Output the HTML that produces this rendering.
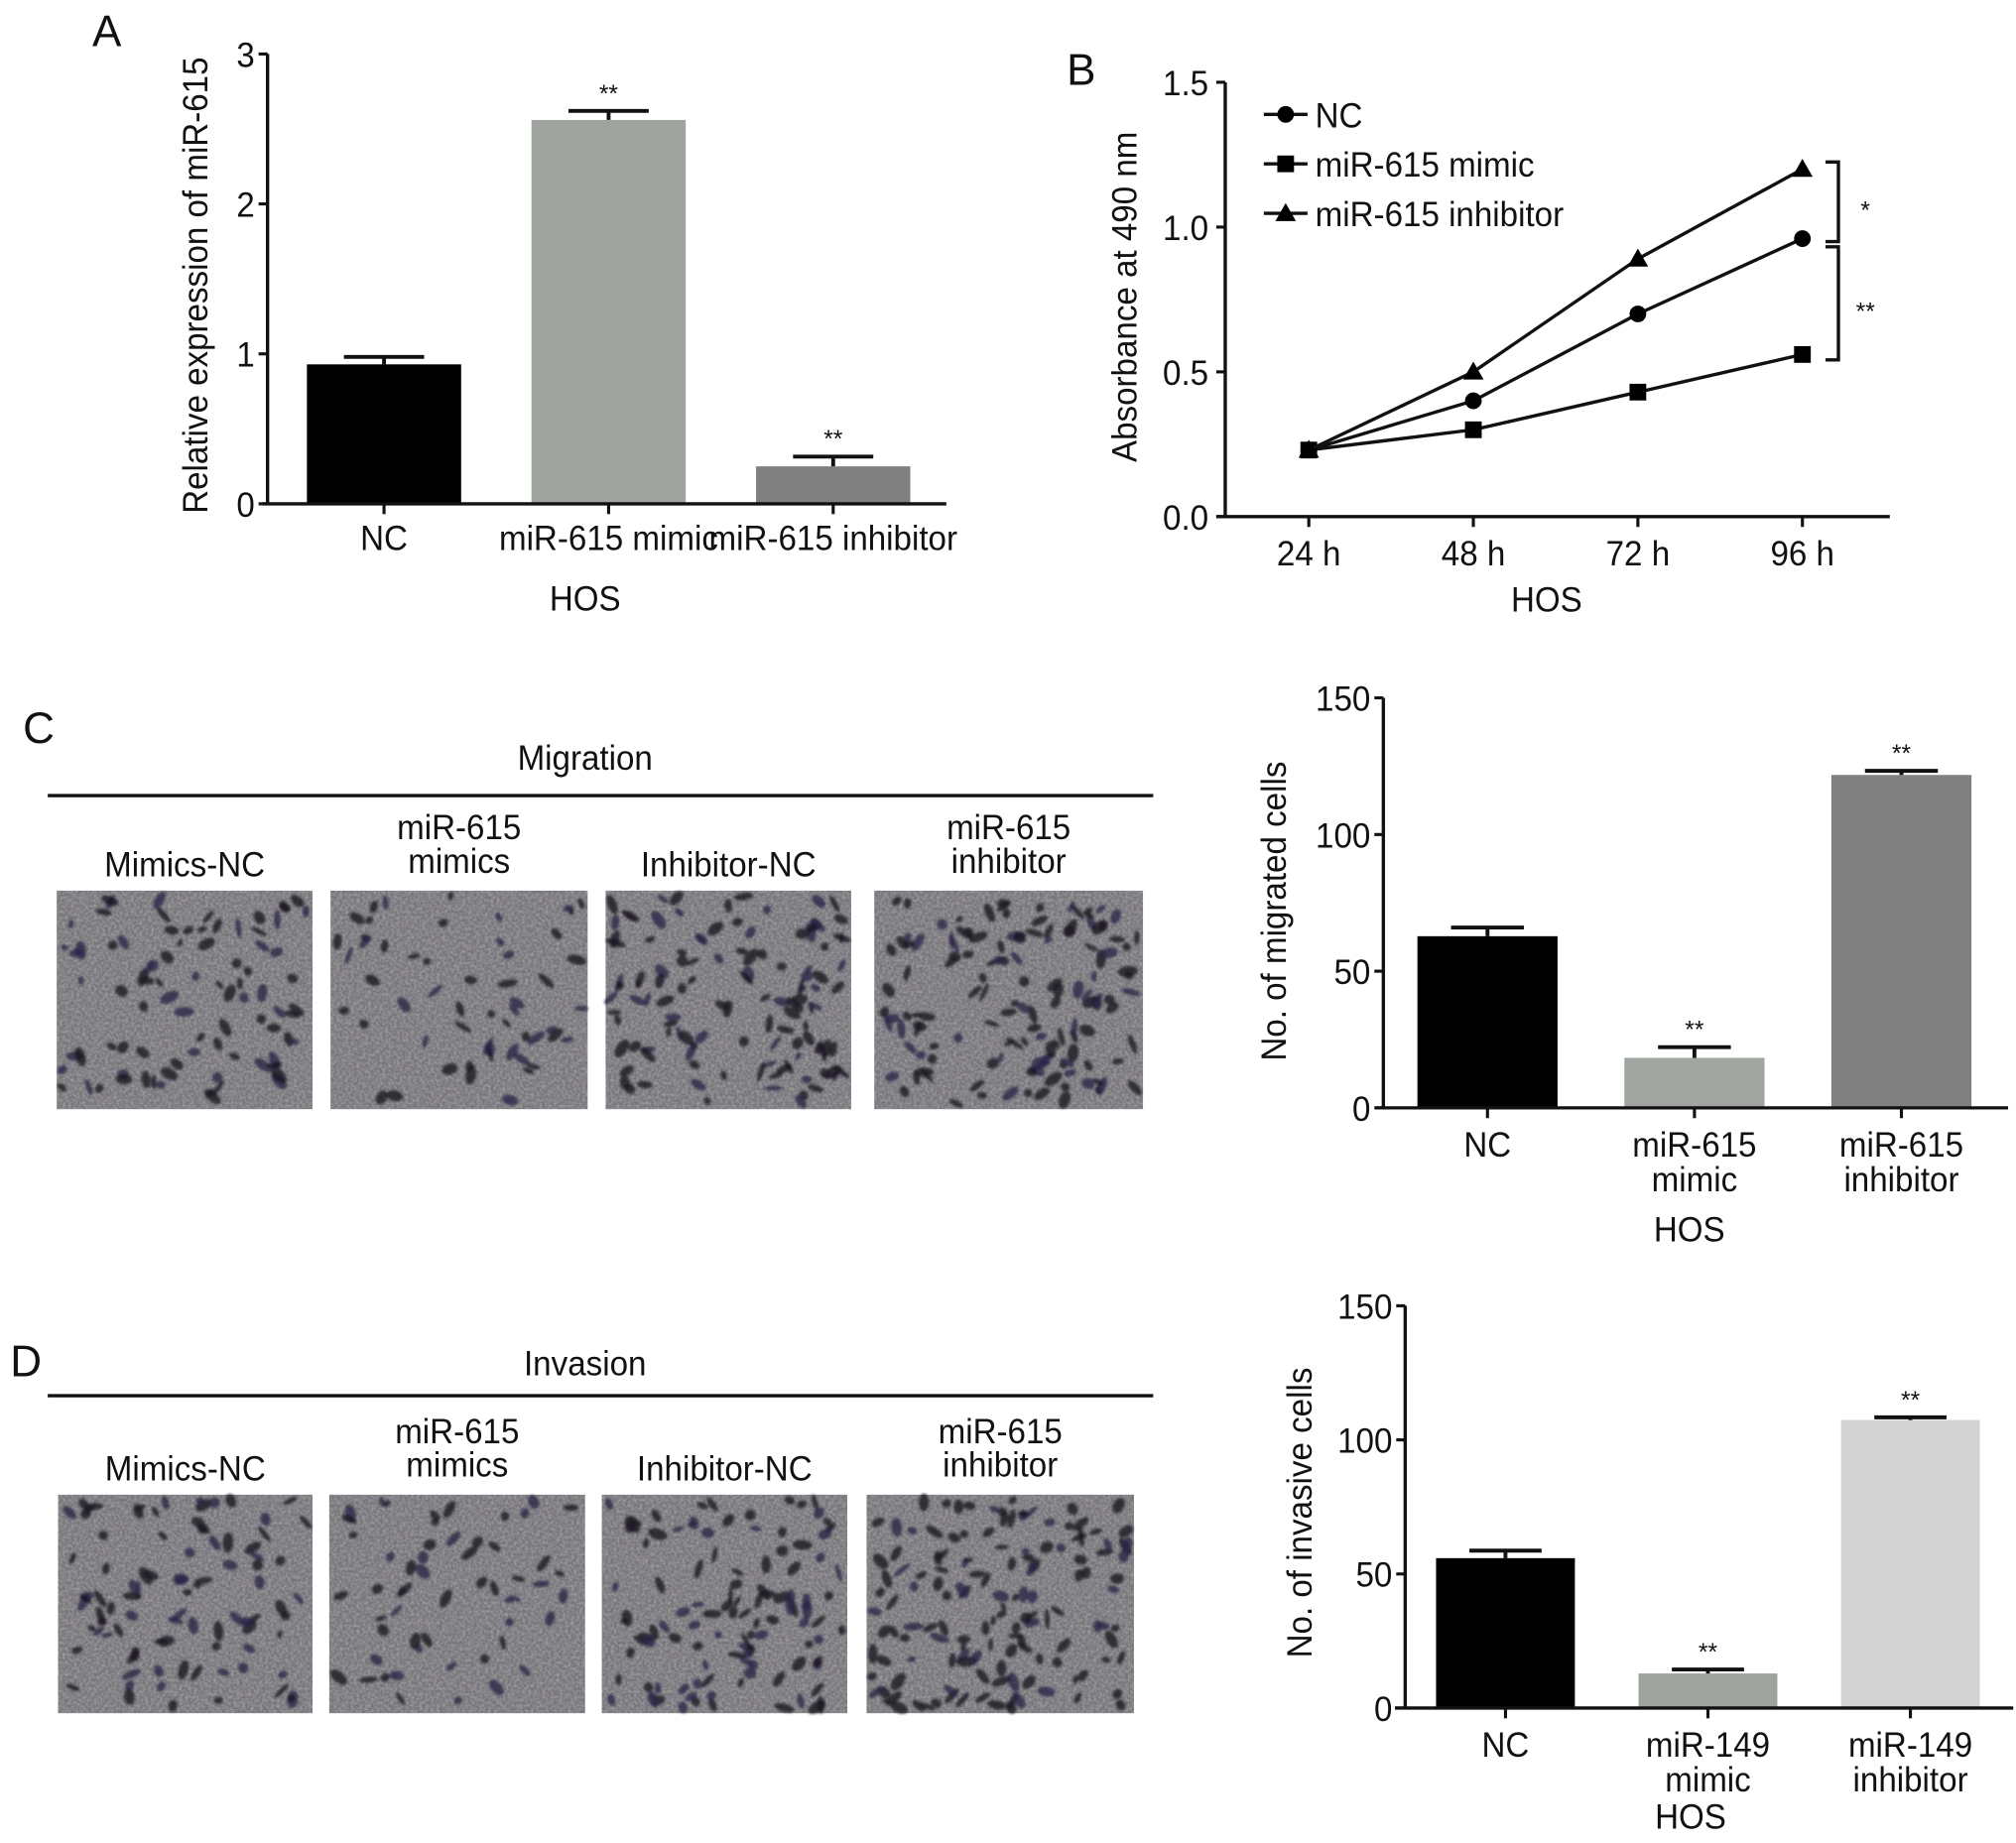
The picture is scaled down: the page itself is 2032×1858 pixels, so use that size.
<!DOCTYPE html>
<html><head><meta charset="utf-8">
<style>
html,body{margin:0;padding:0;background:#fff;}
svg{display:block;}
text{font-family:"Liberation Sans",sans-serif;fill:#111;}
</style></head>
<body>
<svg id="fig" xmlns="http://www.w3.org/2000/svg" width="2032" height="1858" viewBox="0 0 1568 1434">
<defs>
<filter id="grain" x="0" y="0" width="100%" height="100%">
<feTurbulence type="fractalNoise" baseFrequency="0.45" numOctaves="2" seed="3" result="n"/>
<feColorMatrix in="n" type="matrix" values="0 0 0 0 0.62  0 0 0 0 0.6  0 0 0 0 0.62  0 0 0 1.4 -0.45" result="g"/>
<feComposite in="g" in2="SourceGraphic" operator="in"/>
</filter>
<filter id="soft"><feGaussianBlur stdDeviation="1.1"/></filter>
</defs>
<g id="root"></g>
</svg>
<script>
// ---- Panel A data ----
const aCats = ["NC", "miR-615 mimic", "miR-615 inhibitor"];
const aVals = [0.93, 2.56, 0.25];
const aErr = [0.05, 0.06, 0.065];
const aTicks = [0, 1, 2, 3];
// ---- Panel B data ----
const bCats = ["24 h", "48 h", "72 h", "96 h"];
const bNC = [0.23, 0.40, 0.70, 0.96];
const bMimic = [0.23, 0.30, 0.43, 0.56];
const bInh = [0.23, 0.50, 0.89, 1.20];
const bTicks = [0.0, 0.5, 1.0, 1.5];
// ---- Panel C data ----
const cCats = [["NC"], ["miR-615", "mimic"], ["miR-615", "inhibitor"]];
const cVals = [62.8, 18.3, 121.8];
const cErr = [3.2, 3.9, 1.5];
const cTicks = [0, 50, 100, 150];
// ---- Panel D data ----
const dCats = [["NC"], ["miR-149", "mimic"], ["miR-149", "inhibitor"]];
const dVals = [55.9, 12.9, 107.4];
const dErr = [2.8, 1.5, 1.0];
const dTicks = [0, 50, 100, 150];

const NS = "http://www.w3.org/2000/svg";
const root = document.getElementById("root");
const FS = 27.5;
function mk(tag, attrs, parent) {
  const e = document.createElementNS(NS, tag);
  for (const k in attrs) e.setAttribute(k, attrs[k]);
  (parent || root).appendChild(e);
  return e;
}
function txt(s, x, y, size, anchor, parent, squeeze) {
  const t = mk("text", {x: x, y: y, "font-size": size, "text-anchor": anchor || "middle"}, parent);
  t.textContent = s;
  if (squeeze !== false) {
    const w = t.getComputedTextLength();
    if (w > 0) {
      t.setAttribute("textLength", (w * 0.93).toFixed(1));
      t.setAttribute("lengthAdjust", "spacingAndGlyphs");
    }
  }
  return t;
}

function barChart(cfg) {
  const g = mk("g", {});
  
  
  const y = v => cfg.y0 - (v - cfg.vmin) / (cfg.vmax - cfg.vmin) * (cfg.y0 - cfg.y1);
  const x = i => cfg.c0 + i * cfg.step;
  cfg.vals.forEach((v, i) => {
    const r = mk("rect", {x: x(i) - cfg.bw / 2, y: y(v), width: cfg.bw, height: cfg.y0 - y(v), fill: cfg.colors[i]}, g);
    
    
    const top = y(v + cfg.err[i]);
    const eb = mk("path", {d: `M${x(i)},${y(v)}V${top}M${x(i) - cfg.bw * 0.26},${top}H${x(i) + cfg.bw * 0.26}`, stroke: "#111", "stroke-width": 3, fill: "none"}, g);
    
    
    if (cfg.sig[i]) {
      const s = txt(cfg.sig[i], x(i), top - 7, 19, "middle", g, false);
      
      
    }
  });
  const ax = mk("path", {d: `M${cfg.ax},${cfg.y1}V${cfg.y0}M${cfg.xa0},${cfg.y0}H${cfg.xa1}`, stroke: "#111", "stroke-width": 2.6, fill: "none"}, g);
  
  
  cfg.ticks.forEach(t => {
    mk("path", {d: `M${cfg.ax - 7},${y(t)}H${cfg.ax}`, stroke: "#111", "stroke-width": 2.4}, g);
    const l = txt(String(t), cfg.ax - 10, y(t) + 10, FS, "end", g);
    
    
  });
  cfg.cats.forEach((c, i) => {
    mk("path", {d: `M${x(i)},${cfg.y0}V${cfg.y0 + 8}`, stroke: "#111", "stroke-width": 2.4}, g);
    const lines = Array.isArray(c) ? c : [c];
    lines.forEach((s, j) => {
      const l = txt(s, x(i), cfg.labY + j * cfg.lineH, FS, "middle", g);
      
      
    });
  });
  const yt = txt(cfg.ytitle, 0, 0, FS, "middle", g);
  yt.setAttribute("transform", `translate(${cfg.ytx},${cfg.yty}) rotate(-90)`);
  
  
  const xt = txt("HOS", cfg.hosX, cfg.hosY, FS, "middle", g);
  
  
}

function plabel(s, x, y) {
  const t = txt(s, x, y, 34, "middle", root, false);
  
  
}
plabel("A", 83, 36); plabel("B", 841, 66); plabel("C", 30, 578); plabel("D", 20, 1071);

barChart({name: "panel-a-chart", vals: aVals, err: aErr, cats: aCats, ticks: aTicks,
  vmin: 0, vmax: 3, y0: 392, y1: 42, ax: 208, xa0: 204, xa1: 736, c0: 298.6, step: 174.7, bw: 120,
  colors: ["#000", "#9fa59e", "#808080"], sig: ["", "**", "**"], labY: 428, lineH: 27,
  ytitle: "Relative expression of miR-615", ytx: 161, yty: 222, hosX: 455, hosY: 475});

barChart({name: "panel-c-chart", vals: cVals, err: cErr, cats: cCats, ticks: cTicks,
  vmin: 0, vmax: 150, y0: 862, y1: 543, ax: 1076, xa0: 1070, xa1: 1562, c0: 1157, step: 161, bw: 109,
  colors: ["#000", "#a0a59f", "#808080"], sig: ["", "**", "**"], labY: 900, lineH: 27,
  ytitle: "No. of migrated cells", ytx: 1000, yty: 709, hosX: 1314, hosY: 966});

barChart({name: "panel-d-chart", vals: dVals, err: dErr, cats: dCats, ticks: dTicks,
  vmin: 0, vmax: 150, y0: 1329, y1: 1016, ax: 1093, xa0: 1085, xa1: 1566, c0: 1171, step: 157.5, bw: 108,
  colors: ["#000", "#9fa59e", "#d3d3d3"], sig: ["", "**", "**"], labY: 1367, lineH: 27,
  ytitle: "No. of invasive cells", ytx: 1020, yty: 1177, hosX: 1315, hosY: 1423});

(function () {
  const g = mk("g", {});
  
  
  const y = v => 402 - v / 1.5 * 338;
  const x = i => 1018 + i * 128;
  const ax = mk("path", {d: `M953,64V402M946,402H1470`, stroke: "#111", "stroke-width": 2.6, fill: "none"}, g);
  
  
  bTicks.forEach(t => {
    mk("path", {d: `M946,${y(t)}H953`, stroke: "#111", "stroke-width": 2.4}, g);
    const l = txt(t.toFixed(1), 940, y(t) + 10, FS, "end", g);
    
    
  });
  bCats.forEach((c, i) => {
    mk("path", {d: `M${x(i)},402V410`, stroke: "#111", "stroke-width": 2.4}, g);
    const l = txt(c, x(i), 440, FS, "middle", g);
    
    
  });
  function marker(kind, cx, cy, parent) {
    if (kind === "circle") return mk("circle", {cx: cx, cy: cy, r: 6.5, fill: "#000"}, parent);
    if (kind === "square") return mk("rect", {x: cx - 6.5, y: cy - 6.5, width: 13, height: 13, fill: "#000"}, parent);
    return mk("path", {d: `M${cx},${cy - 8}L${cx + 8},${cy + 6}L${cx - 8},${cy + 6}Z`, fill: "#000"}, parent);
  }
  const series = [[bNC, "circle", "NC"], [bMimic, "square", "miR-615 mimic"], [bInh, "triangle", "miR-615 inhibitor"]];
  series.forEach((s, si) => {
    const sg = mk("g", {}, g);
    
    
    const d = s[0].map((v, i) => (i ? "L" : "M") + x(i) + "," + y(v)).join("");
    mk("path", {d: d, stroke: "#111", "stroke-width": 2.6, fill: "none"}, sg);
    s[0].forEach((v, i) => marker(s[1], x(i), y(v), sg));
    const ly = 89 + si * 38.5;
    const lg = mk("g", {}, g);
    
    
    mk("path", {d: `M983,${ly}H1017`, stroke: "#111", "stroke-width": 2.6}, lg);
    marker(s[1], 1000, ly, lg);
    txt(s[2], 1023, ly + 10, FS, "start", lg);
  });
  const br = mk("path", {d: "M1420,126H1430V188H1420M1420,192H1430V280H1420", stroke: "#111", "stroke-width": 2.6, fill: "none"}, g);
  
  
  txt("*", 1451, 170, 19, "middle", g, false);
  txt("**", 1451, 249, 19, "middle", g, false);
  const yt = txt("Absorbance at 490 nm", 0, 0, FS, "middle", g);
  yt.setAttribute("transform", "translate(884,231) rotate(-90)");
  
  
  const xt = txt("HOS", 1203, 476, FS, "middle", g);
  
  
})();

let seed = 7;
function rnd() { seed = (seed * 16807) % 2147483647; return (seed - 1) / 2147483646; }
function photoRow(name, title, titleY, lineY, labels, boxes, py0, py1, density) {
  const g = mk("g", {});
  
  
  const t = txt(title, 455, titleY, FS, "middle", g);
  
  
  mk("path", {d: `M37,${lineY}H897`, stroke: "#111", "stroke-width": 2.6}, g);
  boxes.forEach((b, i) => {
    const pg = mk("g", {}, g);
    
    
    const w = b[1] - b[0], h = py1 - py0;
    mk("rect", {x: b[0], y: py0, width: w, height: h, fill: "#78767a"}, pg);
    mk("rect", {x: b[0], y: py0, width: w, height: h, fill: "#fff", filter: "url(#grain)", opacity: 0.6}, pg);
    const bg = mk("g", {filter: "url(#soft)"}, pg);
    const n = density[i];
    for (let k = 0; k < n; k++) {
      const cx = b[0] + 4 + rnd() * (w - 8), cy = py0 + 4 + rnd() * (h - 8);
      const rx = 1.8 + rnd() * 2.5, ry = 3 + rnd() * 5;
      mk("ellipse", {cx: cx, cy: cy, rx: rx, ry: ry, transform: `rotate(${rnd() * 180} ${cx} ${cy})`,
        fill: rnd() < 0.35 ? "#2c2448" : "#1a1822", opacity: 0.8}, bg);
    }
    const lab = labels[i];
    lab.forEach((s, j) => {
      const l = txt(s, (b[0] + b[1]) / 2, lab.length === 2 ? (py0 - 37 + j * 26 - 3) : (py0 - 11), FS, "middle", g);
      
      
    });
  });
}
const photoLabels = [["Mimics-NC"], ["miR-615", "mimics"], ["Inhibitor-NC"], ["miR-615", "inhibitor"]];
photoRow("migration-micrographs", "Migration", 599, 619, photoLabels,
  [[44, 243], [257, 457], [471, 662], [680, 889]], 693, 863, [85, 55, 120, 135]);
photoRow("invasion-micrographs", "Invasion", 1070, 1086, photoLabels,
  [[45, 243], [256, 455], [468, 659], [674, 882]], 1163, 1333, [90, 55, 110, 140]);
</script>
</body></html>
